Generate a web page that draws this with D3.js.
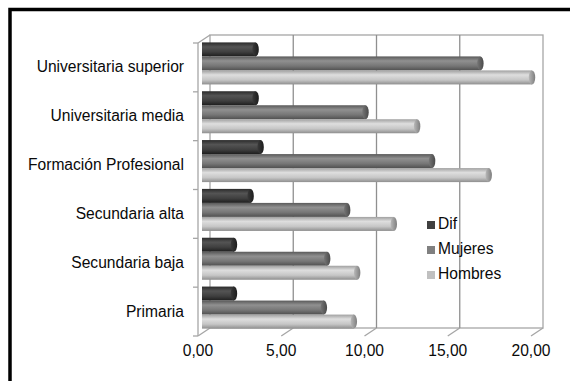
<!DOCTYPE html>
<html>
<head>
<meta charset="utf-8">
<script src="https://cdn.jsdelivr.net/npm/d3@7/dist/d3.min.js"></script>
<style>
  html, body { margin: 0; padding: 0; background: #fff; }
  svg { display: block; }
  text { font-family: "Liberation Sans", Arial, sans-serif; font-size: 15.6px; fill: #0a0a0a; }
</style>
</head>
<body>
<svg id="chart" width="570" height="381"></svg>
<script>
// Education levels (top to bottom) and the three series per level
const categories = ["Universitaria superior", "Universitaria media", "Formación Profesional",
                    "Secundaria alta", "Secundaria baja", "Primaria"];
const seriesNames = ["Dif", "Mujeres", "Hombres"];
const dif     = [3.1, 3.1, 3.4, 2.8, 1.8, 1.8];
const mujeres = [16.6, 9.7, 13.7, 8.6, 7.4, 7.2];
const hombres = [19.7, 12.8, 17.1, 11.4, 9.2, 9.0];
const xTicks  = [0, 5, 10, 15, 20];

const seriesValues = { Dif: dif, Mujeres: mujeres, Hombres: hombres };

const svg = d3.select("#chart");

// Pseudo-3D box: front plane plus a depth offset for the back wall
const DX = 12, DY = -8;
const xFront = d3.scaleLinear().domain([0, 20]).range([198, 531]);
const yFront = d3.scaleBand().domain(categories).range([43, 336]).padding(0);
const xBack = v => xFront(v) + DX;
const xMid = v => xFront(v) + DX / 2;
const yTop = yFront.range()[0], yBot = yFront.range()[1];

const locale = d3.formatLocale({ decimal: ",", thousands: ".", grouping: [3], currency: ["", "€"] });
const fmt = locale.format(".2f");

// Outer frame
svg.append("rect").attr("x", 10).attr("y", 9.5).attr("width", 600).attr("height", 420)
  .attr("fill", "none").attr("stroke", "#000").attr("stroke-width", 3.5);

const frame = "#a6a6a6", grid = "#8f8f8f";
const walls = svg.append("g").attr("fill", "none");

// Back wall with vertical gridlines
walls.append("rect")
  .attr("x", xBack(0)).attr("y", yTop + DY)
  .attr("width", xBack(20) - xBack(0)).attr("height", yBot - yTop)
  .attr("stroke", frame).attr("stroke-width", 1.3);
walls.selectAll("line.grid").data(xTicks.slice(1, -1)).join("line").attr("class", "grid")
  .attr("x1", d => xBack(d)).attr("x2", d => xBack(d))
  .attr("y1", yTop + DY).attr("y2", yBot + DY)
  .attr("stroke", grid).attr("stroke-width", 1.3);

// Floor: depth lines at each tick
walls.selectAll("line.floor").data(xTicks).join("line").attr("class", "floor")
  .attr("x1", d => xFront(d)).attr("y1", yBot)
  .attr("x2", d => xBack(d)).attr("y2", yBot + DY)
  .attr("stroke", frame).attr("stroke-width", 1.3);

// Left wall: front axis line, top depth edge and category ticks
walls.append("line").attr("x1", xFront(0)).attr("x2", xFront(0))
  .attr("y1", yTop).attr("y2", yBot).attr("stroke", frame).attr("stroke-width", 1.3);
walls.append("line").attr("x1", xFront(0)).attr("y1", yTop)
  .attr("x2", xBack(0)).attr("y2", yTop + DY).attr("stroke", frame).attr("stroke-width", 1.3);
const catEdges = categories.map(c => yFront(c)).concat([yBot]);
walls.selectAll("line.ytick").data(catEdges).join("line").attr("class", "ytick")
  .attr("x1", xFront(0) - 5).attr("x2", xFront(0))
  .attr("y1", d => d).attr("y2", d => d)
  .attr("stroke", frame).attr("stroke-width", 1.3);

// Cylinder shading per series
const shades = {
  Dif:     { body: ["#2b2b2b", "#545454", "#3f3f3f", "#1e1e1e"], cap: ["#3a3a3a", "#1c1c1c"] },
  Mujeres: { body: ["#5a5a5a", "#909090", "#767676", "#505050"], cap: ["#767676", "#4a4a4a"] },
  Hombres: { body: ["#a0a0a0", "#dedede", "#c6c6c6", "#8e8e8e"], cap: ["#b8b8b8", "#7e7e7e"] }
};
const defs = svg.append("defs");
seriesNames.forEach(s => {
  const g = defs.append("linearGradient").attr("id", "body-" + s)
    .attr("x1", 0).attr("y1", 0).attr("x2", 0).attr("y2", 1);
  [[0, 0], [0.32, 1], [0.68, 2], [1, 3]].forEach(([o, i]) =>
    g.append("stop").attr("offset", o).attr("stop-color", shades[s].body[i]));
  const c = defs.append("linearGradient").attr("id", "cap-" + s)
    .attr("x1", 0).attr("y1", 0).attr("x2", 1).attr("y2", 0);
  c.append("stop").attr("offset", 0).attr("stop-color", shades[s].cap[0]);
  c.append("stop").attr("offset", 1).attr("stop-color", shades[s].cap[1]);
});

// Bars sit at mid depth of the box
const yMidBand = d3.scaleBand().domain(categories).range([yTop + DY / 2, yBot + DY / 2]).padding(0);
const ySeries = d3.scaleBand().domain(seriesNames)
  .range([3.4, yMidBand.bandwidth() - 3.4]).padding(0);

const barData = [];
categories.forEach((c, i) => seriesNames.forEach(s =>
  barData.push({ cat: c, series: s, value: seriesValues[s][i] })));

const bars = svg.append("g").selectAll("g.bar").data(barData).join("g").attr("class", "bar");
const h = ySeries.bandwidth();
bars.append("rect")
  .attr("x", xMid(0) - 2)
  .attr("y", d => yMidBand(d.cat) + ySeries(d.series))
  .attr("width", d => xMid(d.value) - xMid(0) + 2)
  .attr("height", h)
  .attr("fill", d => `url(#body-${d.series})`);
bars.append("ellipse")
  .attr("cx", d => xMid(d.value))
  .attr("cy", d => yMidBand(d.cat) + ySeries(d.series) + h / 2)
  .attr("rx", 3.2).attr("ry", h / 2)
  .attr("fill", d => `url(#cap-${d.series})`);

// Category labels
svg.append("g").selectAll("text").data(categories).join("text")
  .attr("x", 184).attr("y", d => yFront(d) + yFront.bandwidth() / 2 + 5)
  .attr("text-anchor", "end").text(d => d);

// Value axis labels
svg.append("g").selectAll("text").data(xTicks).join("text")
  .attr("x", d => xFront(d)).attr("y", 356)
  .attr("text-anchor", "middle").text(d => fmt(d));

// Legend
const legendColors = { Dif: "#404040", Mujeres: "#808080", Hombres: "#c0c0c0" };
const leg = svg.append("g").selectAll("g").data(seriesNames).join("g")
  .attr("transform", (d, i) => `translate(427, ${221 + i * 25})`);
leg.append("rect").attr("width", 8).attr("height", 8).attr("fill", d => legendColors[d]);
leg.append("text").attr("x", 11).attr("y", 8).text(d => d);
</script>
</body>
</html>
